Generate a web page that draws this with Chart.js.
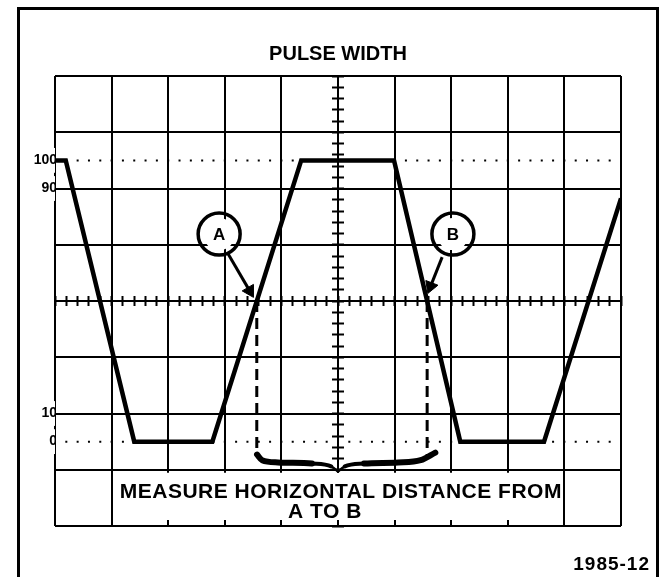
<!DOCTYPE html>
<html>
<head>
<meta charset="utf-8">
<title>Pulse width</title>
<script src="https://cdn.jsdelivr.net/npm/chart.js@4.4.0/dist/chart.umd.min.js"></script>
<style>
  html, body { margin: 0; padding: 0; background: #fff; }
  #wrap { position: relative; width: 661px; height: 577px; overflow: hidden; }
  #frame { position: absolute; left: 17px; top: 7px; width: 636px; height: 620px; border: 3px solid #000; pointer-events: none; }
  canvas { position: absolute; left: 0; top: 0; }
</style>
</head>
<body>
<div id="wrap">
  <canvas id="scope" width="661" height="577"></canvas>
  <div id="frame"></div>
</div>
<script>
// x in screen divisions (0..10), y in percent of pulse amplitude
const traceX = [0, 0.19, 1.40, 2.78, 4.35, 5.99, 7.16, 8.64, 10];
const traceY = [100, 100, 0, 0, 100, 100, 0, 0, 86.5];

const levelLabels = [0, 10, 90, 100];
const refLevels = [0, 100];

// 50% crossings A and B, dashed down to the brace
const markerX = [3.565, 6.575];
const markerTop = 50;
const markerBottom = -5;

const circleLetters = ['A', 'B'];
const circleX = [2.90, 7.03];
const circleY = [73.8, 73.8];

const arrowFromX = [3.06, 6.84];
const arrowFromY = [66.7, 65.6];
const arrowHeadX = [3.44, 6.635];
const arrowHeadY = [53.6, 55.2];
const arrowAngle = [150, 201];

const braceLeftX = [3.57, 3.66, 3.94, 4.54, 4.88, 5.0];
const braceLeftY = [-4.6, -6.6, -7.4, -7.8, -8.8, -10.6];
const braceRightX = [5.0, 5.12, 5.46, 6.06, 6.46, 6.72];
const braceRightY = [-10.6, -8.8, -7.8, -7.4, -6.6, -3.9];

const captionLines = ['MEASURE HORIZONTAL DISTANCE FROM', 'A TO B'];
const figureNo = '1985-12';

const FONT = '"Liberation Sans", Arial, sans-serif';
const pts = (xs, ys) => xs.map((x, i) => ({ x: x, y: ys[i] }));

const datasets = [];

datasets.push({
  data: pts(arrowHeadX, arrowHeadY),
  showLine: false,
  pointStyle: 'triangle',
  pointRadius: 7.5,
  pointRotation: arrowAngle,
  pointBackgroundColor: '#000',
  pointBorderColor: '#000',
  pointBorderWidth: 1,
  order: 0
});

arrowFromX.forEach(function(x0, i) {
  datasets.push({
    data: [{ x: x0, y: arrowFromY[i] }, { x: arrowHeadX[i], y: arrowHeadY[i] }],
    borderColor: '#000',
    borderWidth: 3,
    pointRadius: 0,
    order: 1
  });
});

const ringSet = {
  data: pts(circleX, circleY),
  showLine: false,
  pointStyle: 'circle',
  pointRadius: 21,
  pointBorderWidth: 3.5,
  pointBorderColor: '#000',
  pointBackgroundColor: 'rgba(0,0,0,0)',
  order: 2
};
datasets.push(ringSet);

datasets.push({
  data: pts(circleX, circleY),
  showLine: false,
  pointStyle: 'circle',
  pointRadius: 16,
  pointBorderWidth: 0,
  pointBackgroundColor: '#fff',
  order: 3
});

datasets.push({
  data: pts(traceX, traceY),
  borderColor: '#000',
  borderWidth: 4.5,
  borderJoinStyle: 'miter',
  pointRadius: 0,
  tension: 0,
  order: 4
});

[[braceLeftX, braceLeftY, true], [braceRightX, braceRightY, false]].forEach(function(b) {
  datasets.push({
    data: pts(b[0], b[1]),
    borderColor: '#000',
    borderWidth: 5,
    borderCapStyle: 'round',
    pointRadius: 0,
    cubicInterpolationMode: 'monotone',
    segment: {
      // thinner towards the point of the brace
      borderWidth: function(ctx) {
        const last = b[0].length - 1;
        const near = b[2] ? ctx.p1DataIndex === last : ctx.p0DataIndex === 0;
        const mid = b[2] ? ctx.p1DataIndex === last - 1 : ctx.p0DataIndex === 1;
        return near ? 2.5 : (mid ? 4 : 6);
      }
    },
    order: 5
  });
});

markerX.forEach(function(x) {
  datasets.push({
    data: [{ x: x, y: markerTop }, { x: x, y: markerBottom }],
    borderColor: '#000',
    borderWidth: 3,
    borderDash: [11, 6],
    pointRadius: 0,
    order: 6
  });
});

refLevels.forEach(function(v) {
  datasets.push({
    data: [{ x: 0, y: v }, { x: 10, y: v }],
    borderColor: '#000',
    borderWidth: 2,
    borderDash: [2, 9.32],
    borderDashOffset: 1,
    pointRadius: 0,
    order: 8
  });
});

const ringIndex = datasets.indexOf(ringSet);

const paper = {
  id: 'paper',
  beforeDatasetsDraw: function(chart) {
    const ctx = chart.ctx, x = chart.scales.x, y = chart.scales.y;
    const l = x.getPixelForValue(1) + 2;
    const r = x.getPixelForValue(9) - 2;
    const t = y.getPixelForValue(-10) + 3;
    const b = y.getPixelForValue(-30) - 6;
    ctx.save();
    ctx.fillStyle = '#fff';
    ctx.fillRect(l, t, r - l, b - t);
    ctx.fillStyle = '#000';
    ctx.font = '700 21px ' + FONT;
    ctx.textAlign = 'center';
    ctx.textBaseline = 'alphabetic';
    ctx.letterSpacing = '0.5px';
    ctx.fillText(captionLines[0], x.getPixelForValue(5.05), y.getPixelForValue(-19.9));
    ctx.fillText(captionLines[1], x.getPixelForValue(4.77), y.getPixelForValue(-27.0));
    ctx.restore();
  },
  afterDatasetsDraw: function(chart) {
    const ctx = chart.ctx;
    ctx.save();
    ctx.fillStyle = '#000';
    ctx.font = '700 17px ' + FONT;
    ctx.textAlign = 'center';
    ctx.textBaseline = 'middle';
    chart.getDatasetMeta(ringIndex).data.forEach(function(p, i) {
      ctx.fillText(circleLetters[i], p.x, p.y + 1);
    });
    ctx.restore();
  },
  afterDraw: function(chart) {
    const ctx = chart.ctx;
    ctx.save();
    ctx.fillStyle = '#000';
    ctx.font = '700 19px ' + FONT;
    ctx.letterSpacing = '1px';
    ctx.textAlign = 'right';
    ctx.textBaseline = 'alphabetic';
    ctx.fillText(figureNo, chart.width - 11, 570);
    ctx.restore();
  }
};

const gridLine = { color: '#000', lineWidth: 2, drawTicks: false };

new Chart(document.getElementById('scope').getContext('2d'), {
  type: 'line',
  data: { datasets: datasets },
  plugins: [paper],
  options: {
    responsive: false,
    animation: false,
    events: [],
    layout: { padding: { left: 15, right: 40, top: 0, bottom: 51 } },
    scales: {
      x: {
        type: 'linear', position: 'bottom', min: 0, max: 10,
        ticks: { display: false, stepSize: 1 },
        grid: gridLine,
        border: { display: false },
        afterFit: function(s) { s.height = 0; }
      },
      y: {
        type: 'linear', position: 'left', min: -30, max: 130,
        ticks: { display: false, stepSize: 20 },
        grid: gridLine,
        border: { display: false },
        afterFit: function(s) { s.width = 0; }
      },
      yLab: {
        type: 'linear', axis: 'y', position: 'left', min: -30, max: 130,
        afterBuildTicks: function(s) { s.ticks = levelLabels.map(function(v) { return { value: v }; }); },
        ticks: {
          z: 1,
          color: '#000',
          font: { family: FONT, size: 14, weight: 'bold' },
          padding: -2,
          showLabelBackdrop: true,
          backdropColor: '#fff',
          backdropPadding: { top: 4, bottom: 4, left: 2, right: 2 }
        },
        grid: { display: false, drawTicks: false },
        border: { display: false },
        afterFit: function(s) { s.width = 40; }
      },
      // minor ticks along the centre lines
      xt: {
        type: 'linear', axis: 'x', position: { y: 51.78 }, min: 0, max: 10,
        ticks: { display: false, stepSize: 0.2 },
        grid: { drawOnChartArea: false, drawTicks: true, tickLength: 10, tickWidth: 2, tickColor: '#000' },
        border: { display: false }
      },
      yt: {
        type: 'linear', axis: 'y', position: { x: 5.106 }, min: -30, max: 130,
        ticks: { display: false, stepSize: 4 },
        grid: { drawOnChartArea: false, drawTicks: true, tickLength: 12, tickWidth: 2, tickColor: '#000' },
        border: { display: false }
      }
    },
    plugins: {
      legend: { display: false },
      tooltip: { enabled: false },
      title: {
        display: true,
        text: 'PULSE WIDTH',
        fullSize: false,
        color: '#000',
        font: { family: FONT, size: 20, weight: 'bold', lineHeight: 1.2 },
        padding: { top: 42, bottom: 10 }
      }
    }
  }
});
</script>
</body>
</html>
